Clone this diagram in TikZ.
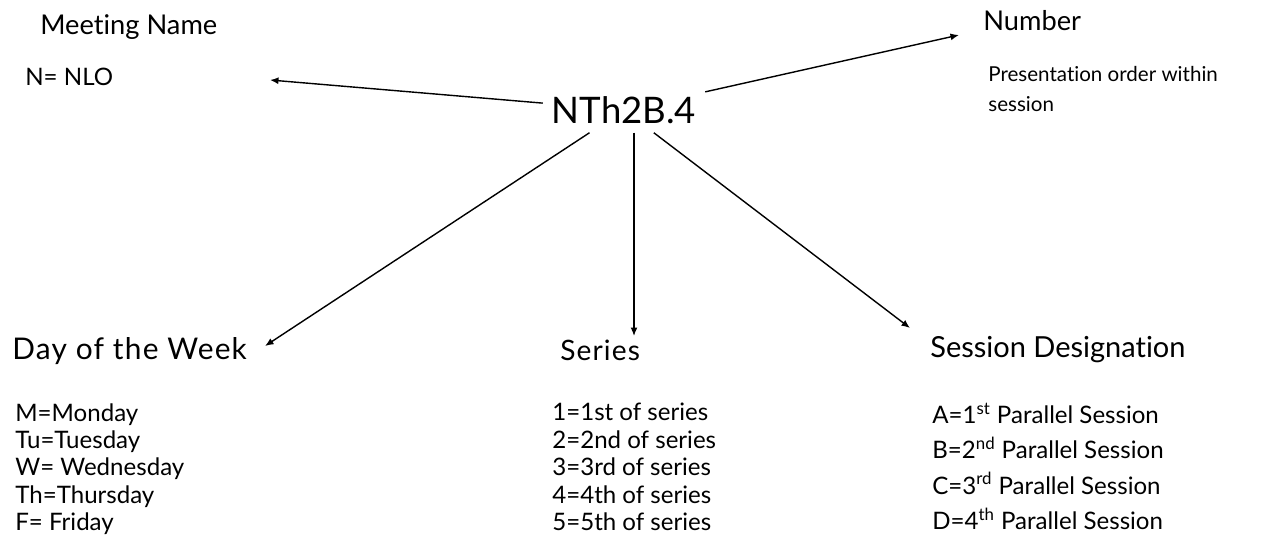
\documentclass[tikz,border=0pt]{standalone}
\usepackage{fontspec}
\setmainfont{Lato}[Ligatures=NoCommon]
\newfontfamily\widefont{Lato}[Ligatures=NoCommon,LetterSpace=4]
\usetikzlibrary{calc,positioning}
\usetikzlibrary{arrows.meta}
\tikzset{>={Latex[width=1.4mm,length=1.7mm]}}

\begin{document}
\begin{tikzpicture}
        \tikzstyle{hnode} = [anchor=west, inner sep = 0pt, font=\fontsize{15.5}{18}\selectfont]
        \tikzstyle{tnode} = [anchor=north west, inner sep = 0pt, align=left, font=\fontsize{13.7}{15.6}\selectfont]
        \tikzstyle{cnode} = [inner sep = 5pt, font=\fontsize{20.8}{25}\selectfont]

        \useasboundingbox (0,0) rectangle (25.32,-10.76);

        % code in the middle
        \node[cnode] (code) at (12.48,-2.2) {NTh2B.4};

        % headings
        \node[hnode] (meeting) at (0.8,-0.54) {Meeting Name};
        \node[hnode] (number) at (19.66,-0.42) {Number};
        \node[hnode, font=\widefont\fontsize{17}{20}\selectfont] (day) at (0.24,-7.02) {Day of the Week};
        \node[hnode, font=\widefont\fontsize{16}{19}\selectfont] (series) at (11.2,-7.0) {Series};
        \node[hnode, font=\fontsize{16.5}{19}\selectfont] (session) at (18.6,-7.0) {Session Designation};

        % explanations
        \node[tnode, anchor=west] (nlo) at (0.5,-1.54) {N= NLO};
        \node[tnode, font=\fontsize{11.7}{17}\selectfont] (order) at (19.76,-1.32) {Presentation order within\\session};
        \node[tnode] (days) at (0.3,-8.06) {M=Monday\\Tu=Tuesday\\W= Wednesday\\Th=Thursday\\F= Friday};
        \node[tnode] (nums) at (11.04,-8.06) {1=1st of series\\2=2nd of series\\3=3rd of series\\4=4th of series\\5=5th of series};
        \node[tnode, font=\fontsize{13.7}{20}\selectfont] (sess) at (18.64,-8.06) {A=1\textsuperscript{st} Parallel Session\\B=2\textsuperscript{nd} Parallel Session\\C=3\textsuperscript{rd} Parallel Session\\D=4\textsuperscript{th} Parallel Session};

        % arrow tips
        \coordinate (meetingTip) at (5.4,-1.6);
        \coordinate (numberTip) at (19.18,-0.7);
        \coordinate (dayTip) at (5.3,-6.92);
        \coordinate (seriesTip) at (12.68,-6.72);
        \coordinate (sessionTip) at (18.2,-6.56);

        \draw[->, line width=0.8pt] (code) -- (meetingTip);
        \draw[->, line width=0.8pt] (code) -- (numberTip);
        \draw[->, line width=0.8pt] (code) -- (dayTip);
        \draw[->, line width=0.8pt] (code.south -| seriesTip) -- (seriesTip);
        \draw[->, line width=0.8pt] (code) -- (sessionTip);
\end{tikzpicture}
\end{document}
